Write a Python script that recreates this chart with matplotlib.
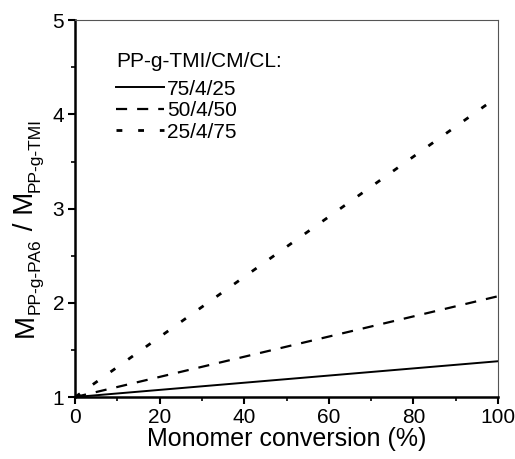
import matplotlib
matplotlib.use("Agg")
import matplotlib.pyplot as plt
from matplotlib.ticker import MultipleLocator

plt.rcParams['font.family'] = ['Liberation Sans', 'DejaVu Sans']

conversion = [0, 100]
ratio_75 = [1.0, 1.38]
ratio_50 = [1.0, 2.07]
ratio_25 = [1.0, 4.19]
labels = ["75/4/25", "50/4/50", "25/4/75"]
ylabel_parts = [("M", 20, 0), ("PP-g-PA6", 12.5, 7), (" / M", 20, 0), ("PP-g-TMI", 12.5, 7)]

W, H = 515, 459
fig = plt.figure(figsize=(W / 100, H / 100), dpi=100)
ax = fig.add_axes([0.146, 0.135, 0.821, 0.821])

ax.plot(conversion, ratio_75, color="black", lw=1.4, label=labels[0])
ax.plot(conversion, ratio_50, color="black", lw=1.6, dashes=(5, 4.5), label=labels[1])
ax.plot(conversion, ratio_25, color="black", lw=2.0, dashes=(2.1, 5.7), label=labels[2])

ax.set_xlim(0, 100)
ax.set_ylim(1, 5)
ax.xaxis.set_major_locator(MultipleLocator(20))
ax.xaxis.set_minor_locator(MultipleLocator(10))
ax.yaxis.set_major_locator(MultipleLocator(1))
ax.yaxis.set_minor_locator(MultipleLocator(0.5))
ax.tick_params(which="major", direction="out", length=5, width=1.5, labelsize=15, pad=3)
ax.tick_params(which="minor", direction="out", length=3, width=1.2)
ax.tick_params(top=False, right=False, which="both")

for side in ["left", "bottom"]:
    ax.spines[side].set_linewidth(1.8)
for side in ["top", "right"]:
    ax.spines[side].set_linewidth(0.8)
    ax.spines[side].set_color("#555555")

ax.set_xlabel("Monomer conversion (%)", fontsize=18, labelpad=0)

# y label built piece by piece so the subscripts can be small and low
renderer = fig.canvas.get_renderer()
base_x = 33
cur_y = H - 337
for txt, size, drop in ylabel_parts:
    t = fig.text((base_x + drop) / W, cur_y / H, txt, fontsize=size, rotation=90,
                 rotation_mode="anchor", ha="left", va="baseline")
    bb = t.get_window_extent(renderer)
    cur_y += bb.height

leg = ax.legend(title="PP-g-TMI/CM/CL:", loc="upper left", bbox_to_anchor=(0.097, 0.915),
                frameon=False, fontsize=15, title_fontsize=15, handlelength=2.3,
                handletextpad=0.15, labelspacing=0.12, borderaxespad=0, borderpad=0)
leg._legend_box.align = "left"
leg._legend_box.sep = 6

fig.savefig("out.png", dpi=100)
